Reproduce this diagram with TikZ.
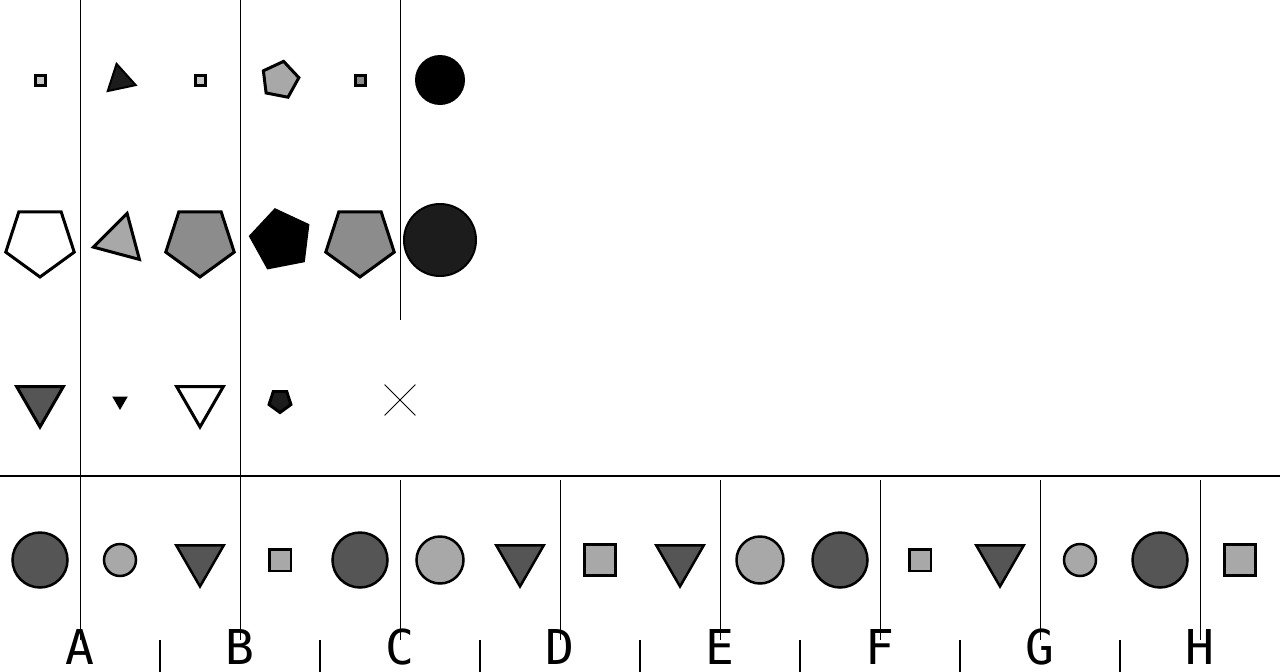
\documentclass[tikz,border=0pt]{standalone}
\usepackage{fontspec}
\newfontfamily\labfont{DejaVu Sans Mono}
\usetikzlibrary{shapes.geometric,shapes.misc}
\definecolor{cLight}{HTML}{C8C8C8}
\definecolor{cMid}{HTML}{A8A8A8}
\definecolor{cGray}{HTML}{8C8C8C}
\definecolor{cDark}{HTML}{555555}
\definecolor{cBlack}{HTML}{1C1C1C}
\begin{document}
\begin{tikzpicture}[x=1pt,y=-1pt,
  shp/.style={draw=black,line width=3pt,inner sep=0pt,outer sep=0pt},
  sqr/.style={shp,rectangle,minimum size=#1},
  circ/.style={shp,circle,minimum size=#1},
  poly/.style={shp,regular polygon,regular polygon sides=#1},
  bot/.style={line width=2.5pt},
  gline/.style={line width=1pt},
  lab/.style={font=\labfont\fontsize{48}{48}\selectfont,anchor=base,inner sep=0pt}
]
\useasboundingbox (0,0) rectangle (1280,672);
% grid lines
\draw[gline] (80,0) -- (80,640);
\draw[gline] (240,0) -- (240,640);
\draw[gline] (400,0) -- (400,320);
\foreach \x in {400,560,...,1200} \draw[gline] (\x,480) -- (\x,640);
\foreach \x in {160,320,...,1120} \draw[line width=1.5pt] (\x,640) -- (\x,672);
\draw[line width=2pt] (0,476) -- (1280,476);
% row 1
\node[sqr=10pt,fill=cLight] (r1a) at (40,80) {};
\node[poly=3,fill=cBlack,line width=2pt,minimum size=33pt,rotate=12] (r1b) at (120,80) {};
\node[sqr=10pt,fill=cLight] (r1c) at (200,80) {};
\node[poly=5,fill=cMid,minimum size=38pt,rotate=-11] (r1d) at (280,80) {};
\node[sqr=10pt,fill=cGray] (r1e) at (360,80) {};
\node[circ=50pt,fill=black,draw=none] (r1f) at (440,80) {};
% row 2
\node[poly=5,fill=white,minimum size=72pt,rotate=180] (r2a) at (40,241) {};
\node[poly=3,fill=cMid,minimum size=55pt,rotate=-15] (r2b) at (120,240) {};
\node[poly=5,fill=cGray,minimum size=72pt,rotate=180] (r2c) at (200,241) {};
\node[poly=5,fill=black,draw=none,minimum size=65pt,rotate=11] (r2d) at (281,240) {};
\node[poly=5,fill=cGray,minimum size=72pt,rotate=180] (r2e) at (360,241) {};
\node[circ=72pt,fill=cBlack,line width=2pt] (r2f) at (440,240) {};
% row 3
\node[poly=3,fill=cDark,minimum size=54pt,rotate=180] (r3a) at (40,400) {};
\node[poly=3,fill=black,draw=none,minimum size=18pt,rotate=180] (r3b) at (120,401) {};
\node[poly=3,fill=white,minimum size=54pt,rotate=180] (r3c) at (200,400) {};
\node[poly=5,fill=cBlack,minimum size=23pt,rotate=180] (r3d) at (280,401) {};
\node[cross out,draw=black,line width=0.8pt,minimum size=30pt,inner sep=0pt] (r3e) at (400,400) {};
% bottom row
\node[circ=55pt,bot,fill=cDark] (b1) at (40,560) {};
\node[circ=32pt,bot,fill=cMid] (b2) at (120,560) {};
\node[poly=3,bot,fill=cDark,minimum size=55pt,rotate=180] (b3) at (200,559) {};
\node[sqr=21.5pt,bot,fill=cMid] (b4) at (280,560) {};
\node[circ=55pt,bot,fill=cDark] (b5) at (360,560) {};
\node[circ=47pt,bot,fill=cMid] (b6) at (440,560) {};
\node[poly=3,bot,fill=cDark,minimum size=55pt,rotate=180] (b7) at (520,559) {};
\node[sqr=31pt,bot,fill=cMid] (b8) at (600,560) {};
\node[poly=3,bot,fill=cDark,minimum size=55pt,rotate=180] (b9) at (680,559) {};
\node[circ=47pt,bot,fill=cMid] (b10) at (760,560) {};
\node[circ=55pt,bot,fill=cDark] (b11) at (840,560) {};
\node[sqr=21.5pt,bot,fill=cMid] (b12) at (920,560) {};
\node[poly=3,bot,fill=cDark,minimum size=55pt,rotate=180] (b13) at (1000,559) {};
\node[circ=32pt,bot,fill=cMid] (b14) at (1080,560) {};
\node[circ=55pt,bot,fill=cDark] (b15) at (1160,560) {};
\node[sqr=31pt,bot,fill=cMid] (b16) at (1240,560) {};
% labels
\foreach \l [count=\i] in {A,B,C,D,E,F,G,H}
  \node[lab] (lab\l) at ({80+160*(\i-1)},664) {\l};
\end{tikzpicture}
\end{document}
